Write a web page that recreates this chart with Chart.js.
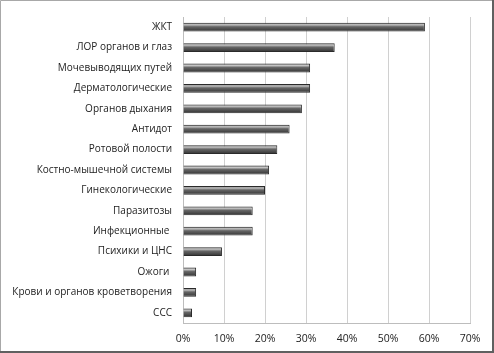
<!DOCTYPE html>
<html><head><meta charset="utf-8">
<script src="https://cdn.jsdelivr.net/npm/chart.js@4"></script>
<style>html,body{margin:0;padding:0;background:#fff}#w{width:494px;height:353px;position:relative}</style>
</head><body><div id="w"><canvas id="c" width="494" height="353"></canvas></div>
<script>
const categories = ["ЖКТ","ЛОР органов и глаз","Мочевыводящих путей","Дерматологические","Органов дыхания","Антидот","Ротовой полости","Костно-мышечной системы","Гинекологические","Паразитозы","Инфекционные ","Психики и ЦНС","Ожоги ","Крови и органов кроветворения","ССС"];
const values = [59,37,31,31,29,26,23,21,20,17,17,9.5,3.2,3.2,2.2];
const xTicks = [0,10,20,30,40,50,60,70];

function barFill(ctx){
  const chart = ctx.chart;
  if(!chart.chartArea || !chart.scales.y) return '#555';
  const yc = chart.scales.y.getPixelForValue(ctx.dataIndex);
  const g = chart.ctx.createLinearGradient(0, yc-4.5, 0, yc+4.5);
  g.addColorStop(0,'#3a3a3a');
  g.addColorStop(0.22,'#c4c4c4');
  g.addColorStop(0.45,'#666');
  g.addColorStop(0.8,'#444');
  g.addColorStop(1,'#2a2a2a');
  return g;
}
const frame = {id:'frame',
  beforeDraw(c){const x=c.ctx;x.save();x.fillStyle='#fff';x.fillRect(0,0,c.width,c.height);x.restore();},
  afterDraw(c){const x=c.ctx,w=c.width,h=c.height;x.save();
    x.strokeStyle='#a8a8a8';x.lineWidth=1;x.beginPath();x.moveTo(0.5,h);x.lineTo(0.5,0.5);x.lineTo(w,0.5);x.stroke();
    x.strokeStyle='#606060';x.lineWidth=2;x.beginPath();x.moveTo(w-1,0);x.lineTo(w-1,h-1);x.lineTo(0,h-1);x.stroke();
    x.restore();}
};
new Chart(document.getElementById('c'),{
  type:'bar',
  data:{labels:categories,datasets:[{data:values,backgroundColor:barFill,borderColor:'#2a2a2a',borderWidth:1,categoryPercentage:1,barPercentage:0.43}]},
  options:{
    indexAxis:'y',responsive:false,animation:false,
    layout:{padding:{left:0,right:24,top:13,bottom:0}},
    plugins:{legend:{display:false},tooltip:{enabled:false}},
    scales:{
      x:{min:0,max:70,afterBuildTicks(s){s.ticks=xTicks.map(v=>({value:v}));},
        afterFit(s){s.height=30;},
        grid:{color:'#d0d0d0',lineWidth:1,drawTicks:false},
        border:{color:'#bdbdbd'},
        ticks:{padding:10,color:'#222',font:{family:'Open Sans',size:10.5},callback:v=>v+'%'}},
      y:{afterFit(s){s.width=183;},
        grid:{display:false,drawTicks:false},
        border:{color:'#bdbdbd'},
        ticks:{padding:11,color:'#222',font:{family:'Open Sans',size:10},autoSkip:false}}
    }
  },
  plugins:[frame]
});
</script></body></html>
